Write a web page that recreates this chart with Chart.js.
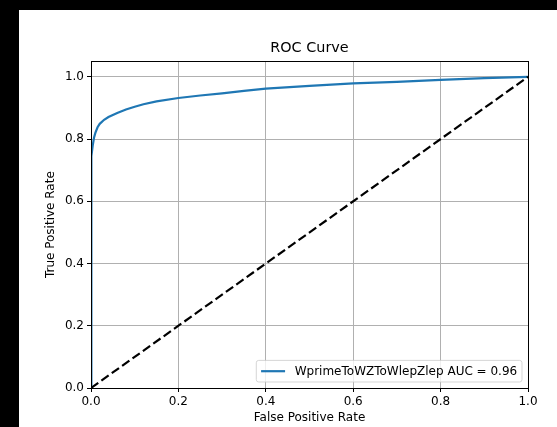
<!DOCTYPE html>
<html>
<head>
<meta charset="utf-8">
<script src="https://cdn.jsdelivr.net/npm/chart.js@4.4.1/dist/chart.umd.min.js"></script>
<style>
  html, body { margin: 0; padding: 0; background: #000; width: 557px; height: 427px; overflow: hidden; }
  #wrap { position: absolute; left: 19px; top: 10px; width: 538px; height: 417px; background: #fff; }
  canvas { display: block; }
</style>
</head>
<body>
<div id="wrap"><canvas id="c" width="538" height="417"></canvas></div>
<script>
// ---- data ----
const chartTitle = "ROC Curve";
const xAxisLabel = "False Positive Rate";
const yAxisLabel = "True Positive Rate";
const seriesLabel = "WprimeToWZToWlepZlep AUC = 0.96";
const fpr = [0, 0, 0.0005, 0.001, 0.002, 0.004, 0.007, 0.01, 0.015, 0.02, 0.03, 0.04, 0.06, 0.08, 0.1, 0.12, 0.15, 0.2, 0.25, 0.3, 0.35, 0.4, 0.5, 0.6, 0.7, 0.8, 0.9, 1.0];
const tpr = [0, 0.55, 0.65, 0.70, 0.745, 0.78, 0.805, 0.82, 0.838, 0.849, 0.862, 0.871, 0.884, 0.895, 0.904, 0.912, 0.921, 0.932, 0.940, 0.947, 0.955, 0.962, 0.971, 0.979, 0.984, 0.990, 0.996, 1.0];
const diagX = [0, 1];
const diagY = [0, 1];
const xTicks = [0, 0.2, 0.4, 0.6, 0.8, 1.0];
const yTicks = [0, 0.2, 0.4, 0.6, 0.8, 1.0];

const BLUE = '#1f77b4';
const FONT = "'DejaVu Sans', sans-serif";
Chart.defaults.font.family = FONT;
Chart.defaults.font.size = 12;
Chart.defaults.color = '#000';

const rocPts = fpr.map((x, i) => ({x: x, y: tpr[i]}));
const diagPts = diagX.map((x, i) => ({x: x, y: diagY[i]}));

const framePlugin = {
  id: 'frame',
  afterDatasetsDraw(chart) {
    const {ctx, chartArea: a} = chart;
    ctx.save();
    ctx.strokeStyle = '#000';
    ctx.lineWidth = 1;
    ctx.strokeRect(Math.round(a.left) + 0.5, Math.round(a.top) + 0.5, Math.round(a.right - a.left), Math.round(a.bottom - a.top));
    ctx.restore();
  }
};

const legendPlugin = {
  id: 'mplLegend',
  afterDraw(chart) {
    const {ctx, chartArea: a} = chart;
    const fs = 12;
    ctx.save();
    ctx.font = fs + 'px ' + FONT;
    const label = chart.data.datasets[0].label;
    const tw = ctx.measureText(label).width;
    const pad = 0.4 * fs, handle = 2.0 * fs, htp = 0.8 * fs, axpad = 0.5 * fs;
    const h = 2 * pad + fs * 1.0;
    const w = 2 * pad + handle + htp + tw;
    const right = a.right - axpad, bottom = a.bottom - axpad;
    const left = right - w, top = bottom - h;
    const r = 0.2 * fs;
    ctx.beginPath();
    ctx.moveTo(left + r, top);
    ctx.lineTo(right - r, top);
    ctx.arcTo(right, top, right, top + r, r);
    ctx.lineTo(right, bottom - r);
    ctx.arcTo(right, bottom, right - r, bottom, r);
    ctx.lineTo(left + r, bottom);
    ctx.arcTo(left, bottom, left, bottom - r, r);
    ctx.lineTo(left, top + r);
    ctx.arcTo(left, top, left + r, top, r);
    ctx.closePath();
    ctx.fillStyle = 'rgba(255,255,255,0.8)';
    ctx.fill();
    ctx.strokeStyle = 'rgba(204,204,204,0.8)';
    ctx.lineWidth = 1;
    ctx.stroke();
    const cy = top + h / 2;
    ctx.beginPath();
    ctx.moveTo(left + pad, cy);
    ctx.lineTo(left + pad + handle, cy);
    ctx.strokeStyle = BLUE;
    ctx.lineWidth = 2.2;
    ctx.stroke();
    ctx.fillStyle = '#000';
    ctx.textBaseline = 'middle';
    ctx.textAlign = 'left';
    ctx.fillText(label, left + pad + handle + htp, cy + 0.5);
    ctx.restore();
  }
};

new Chart(document.getElementById('c'), {
  type: 'scatter',
  data: {
    datasets: [
      { label: seriesLabel, data: rocPts, showLine: true, borderColor: BLUE, borderWidth: 2.2, pointRadius: 0, tension: 0, fill: false, order: 2 },
      { label: 'diag', data: diagPts, showLine: true, borderColor: '#000', borderWidth: 2.2, borderDash: [8.9, 3.84], pointRadius: 0, tension: 0, fill: false, order: 1 }
    ]
  },
  options: {
    responsive: false,
    animation: false,
    devicePixelRatio: 1,
    layout: { padding: { top: 0, right: 29, bottom: 0, left: 0 } },
    plugins: {
      legend: { display: false },
      tooltip: { enabled: false },
      title: {
        display: true, text: chartTitle, fullSize: false, color: '#000',
        font: { size: 14.4, weight: 'normal', family: FONT },
        padding: { top: 30, bottom: 4 }
      }
    },
    scales: {
      x: {
        type: 'linear', min: 0, max: 1,
        afterBuildTicks: (s) => { s.ticks = xTicks.map(v => ({value: v})); },
        afterFit: (s) => { s.height = 39; },
        ticks: { color: '#000', padding: 3, maxRotation: 0, font: { size: 12 }, callback: (v) => Number(v).toFixed(1) },
        grid: { color: '#b0b0b0', lineWidth: 1, tickColor: '#000', tickLength: 4, tickWidth: 1, drawTicks: true },
        border: { display: false },
        title: { display: true, text: xAxisLabel, color: '#000', font: { size: 12 }, padding: { top: 0, bottom: 1.5 } }
      },
      y: {
        type: 'linear', min: 0, max: 1.05,
        afterBuildTicks: (s) => { s.ticks = yTicks.map(v => ({value: v})); },
        afterFit: (s) => { s.width = 72; },
        ticks: { color: '#000', padding: 3, font: { size: 12 }, callback: (v) => Number(v).toFixed(1) },
        grid: { color: '#b0b0b0', lineWidth: 1, tickColor: '#000', tickLength: 4, tickWidth: 1, drawTicks: true },
        border: { display: false },
        title: { display: true, text: yAxisLabel, color: '#000', font: { size: 12 }, padding: { top: 24.5, bottom: 0 } }
      }
    }
  },
  plugins: [framePlugin, legendPlugin]
});
</script>
</body>
</html>
